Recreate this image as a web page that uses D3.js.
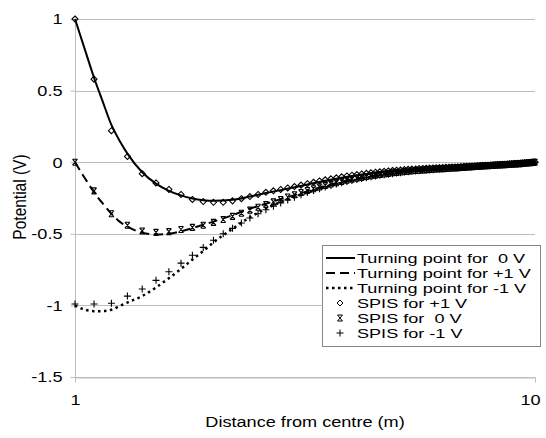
<!DOCTYPE html>
<html>
<head>
<meta charset="utf-8">
<script src="https://cdn.jsdelivr.net/npm/d3@7"></script>
<style>
  body { margin: 0; background: #fff; }
  text { font-family: "Liberation Sans", Arial, sans-serif; fill: #000; }
</style>
</head>
<body>
<div id="chart"></div>
<script>
// distance from centre (m) for the SPIS samples
const spisX = [
  1.0, 1.1, 1.2, 1.3, 1.4, 1.5, 1.6, 1.7, 1.8, 1.9,
  2.0, 2.1, 2.2, 2.3, 2.4, 2.5, 2.6, 2.7, 2.8, 2.9,
  3.0, 3.1, 3.2, 3.3, 3.4, 3.5, 3.6, 3.7, 3.8, 3.9,
  4.0, 4.1, 4.2, 4.3, 4.4, 4.5, 4.6, 4.7, 4.8, 4.9,
  5.0, 5.1, 5.2, 5.3, 5.4, 5.5, 5.6, 5.7, 5.8, 5.9,
  6.0, 6.1, 6.2, 6.3, 6.4, 6.5, 6.6, 6.7, 6.8, 6.9,
  7.0, 7.1, 7.2, 7.3, 7.4, 7.5, 7.6, 7.7, 7.8, 7.9,
  8.0, 8.1, 8.2, 8.3, 8.4, 8.5, 8.6, 8.7, 8.8, 8.9,
  9.0, 9.1, 9.2, 9.3, 9.4, 9.5, 9.6, 9.7, 9.8, 9.9,
  10.0
];

const spisPlus1 = [
  1.0, 0.58, 0.22, 0.04, -0.08, -0.145, -0.19, -0.225, -0.26, -0.275,
  -0.28, -0.28, -0.27, -0.255, -0.24, -0.225, -0.21, -0.2, -0.19, -0.18,
  -0.17, -0.16, -0.15, -0.14, -0.131, -0.123, -0.116, -0.109, -0.102, -0.096,
  -0.091, -0.086, -0.082, -0.078, -0.074, -0.07, -0.067, -0.064, -0.061, -0.058,
  -0.056, -0.054, -0.052, -0.05, -0.048, -0.047, -0.045, -0.044, -0.042, -0.041,
  -0.04, -0.039, -0.038, -0.037, -0.036, -0.035, -0.034, -0.033, -0.032, -0.031,
  -0.03, -0.029, -0.028, -0.027, -0.026, -0.025, -0.024, -0.023, -0.022, -0.021,
  -0.02, -0.019, -0.018, -0.017, -0.016, -0.015, -0.014, -0.013, -0.012, -0.011,
  -0.01, -0.009, -0.008, -0.007, -0.006, -0.005, -0.004, -0.003, -0.002, -0.001,
  0
];

const spis0 = [
  0, -0.2, -0.36, -0.44, -0.48, -0.49, -0.485, -0.47, -0.455, -0.44,
  -0.42, -0.4, -0.378, -0.356, -0.335, -0.315, -0.295, -0.277, -0.26, -0.243,
  -0.227, -0.212, -0.198, -0.185, -0.173, -0.162, -0.152, -0.143, -0.134, -0.126,
  -0.119, -0.112, -0.106, -0.1, -0.095, -0.09, -0.086, -0.082, -0.078, -0.074,
  -0.071, -0.068, -0.065, -0.062, -0.06, -0.058, -0.056, -0.054, -0.052, -0.051,
  -0.049, -0.048, -0.046, -0.045, -0.044, -0.042, -0.041, -0.04, -0.038, -0.037,
  -0.036, -0.034, -0.033, -0.032, -0.03, -0.029, -0.028, -0.026, -0.025, -0.024,
  -0.023, -0.022, -0.021, -0.02, -0.019, -0.018, -0.017, -0.016, -0.015, -0.014,
  -0.013, -0.012, -0.011, -0.01, -0.008, -0.007, -0.006, -0.004, -0.003, -0.001,
  0
];

const spisMinus1 = [
  -0.99, -0.99, -0.985, -0.935, -0.885, -0.825, -0.765, -0.705, -0.65, -0.595,
  -0.545, -0.5, -0.462, -0.425, -0.39, -0.36, -0.332, -0.307, -0.285, -0.264,
  -0.245, -0.228, -0.212, -0.198, -0.185, -0.173, -0.162, -0.152, -0.143, -0.135,
  -0.127, -0.12, -0.114, -0.108, -0.102, -0.097, -0.092, -0.088, -0.084, -0.08,
  -0.076, -0.073, -0.07, -0.067, -0.064, -0.062, -0.06, -0.058, -0.056, -0.054,
  -0.052, -0.05, -0.049, -0.047, -0.046, -0.044, -0.043, -0.041, -0.04, -0.038,
  -0.037, -0.036, -0.034, -0.033, -0.032, -0.03, -0.029, -0.028, -0.026, -0.025,
  -0.024, -0.023, -0.022, -0.021, -0.02, -0.019, -0.018, -0.017, -0.016, -0.015,
  -0.013, -0.012, -0.011, -0.01, -0.009, -0.007, -0.006, -0.004, -0.003, -0.001,
  0
];

// turning point model curves
const lineX = [1, 1.05, 1.1, 1.15, 1.2, 1.25, 1.3, 1.4, 1.5, 1.6, 1.7, 1.8, 1.9, 2.0,
  2.2, 2.4, 2.6, 2.8, 3.0, 3.5, 4, 4.5, 5, 6, 7, 8, 9, 10];
const turn0 = [1.0, 0.79, 0.59, 0.42, 0.26, 0.15, 0.06, -0.07, -0.15, -0.2, -0.232, -0.253, -0.265, -0.27,
  -0.263, -0.24, -0.215, -0.195, -0.175, -0.13, -0.097, -0.073, -0.058, -0.041, -0.03, -0.02, -0.01, 0];
const turnPlus1 = [0, -0.11, -0.21, -0.29, -0.36, -0.415, -0.45, -0.493, -0.505, -0.5, -0.483, -0.46, -0.437, -0.415,
  -0.37, -0.325, -0.29, -0.258, -0.23, -0.165, -0.12, -0.092, -0.072, -0.05, -0.035, -0.022, -0.011, 0];
const turnMinus1 = [-1.0, -1.03, -1.04, -1.04, -1.03, -1.005, -0.98, -0.935, -0.875, -0.81, -0.745, -0.68, -0.62, -0.56,
  -0.465, -0.385, -0.325, -0.278, -0.243, -0.174, -0.128, -0.097, -0.076, -0.052, -0.037, -0.024, -0.012, 0];

const yTicks = [1, 0.5, 0, -0.5, -1, -1.5];
const yTickLabels = ["1", "0.5", "0", "-0.5", "-1", "-1.5"];
const xTicks = [1, 10];
const xTickLabels = ["1", "10"];

const legendLabels = [
  "Turning point for  0 V",
  "Turning point for +1 V",
  "Turning point for -1 V",
  "SPIS for +1 V",
  "SPIS for  0 V",
  "SPIS for -1 V"
];

(function() {
  const width = 546, height = 438;
  const sx = 1.17;           // text in the original is stretched sideways
  const grid = "#bdbdbd";

  const svg = d3.select("#chart").append("svg")
    .attr("width", width)
    .attr("height", height);

  const x = d3.scaleLog().domain([1, 10]).range([75, 535]);
  const y = d3.scaleLinear().domain([-1.5, 1]).range([377, 19]);

  // horizontal gridlines
  svg.append("g").selectAll("line")
    .data(yTicks)
    .enter().append("line")
    .attr("x1", 75).attr("x2", 535)
    .attr("y1", d => Math.round(y(d)) + 0.5)
    .attr("y2", d => Math.round(y(d)) + 0.5)
    .attr("stroke", grid)
    .attr("stroke-width", 1);

  const yAxis = svg.append("g")
    .attr("transform", "translate(75.5,0)")
    .call(d3.axisLeft(y).tickValues(yTicks).tickSize(5).tickSizeOuter(0)
      .tickFormat((d, i) => yTickLabels[i]));
  yAxis.select(".domain").attr("stroke", grid).attr("d", `M0,${y(1)}V${y(-1.5) + 5}`);
  yAxis.selectAll(".tick line").attr("stroke", grid);
  yAxis.selectAll(".tick text")
    .attr("x", -13 / sx)
    .attr("transform", `scale(${sx},1)`)
    .style("font-size", "15.5px");

  const xAxis = svg.append("g")
    .attr("transform", "translate(0,377.5)")
    .call(d3.axisBottom(x).tickValues(xTicks).tickSize(5).tickSizeOuter(0)
      .tickFormat((d, i) => xTickLabels[i]));
  xAxis.select(".domain").attr("stroke", grid);
  xAxis.selectAll(".tick line").attr("stroke", grid);
  xAxis.selectAll(".tick text")
    .attr("y", 17)
    .attr("x", (d, i) => i === 1 ? -5 / sx : 0)
    .attr("transform", `scale(${sx},1)`)
    .style("font-size", "15.5px");

  // axis titles
  svg.append("text")
    .attr("transform", `translate(305,427) scale(${sx},1)`)
    .attr("text-anchor", "middle")
    .style("font-size", "15.5px")
    .text("Distance from centre (m)");

  svg.append("text")
    .attr("transform", `translate(26,197) rotate(-90) scale(1,${sx})`)
    .attr("text-anchor", "middle")
    .style("font-size", "15.5px")
    .text("Potential (V)");

  // model curves
  const lines = [
    { values: turn0, dash: null, width: 2 },
    { values: turnPlus1, dash: "9,5", width: 2 },
    { values: turnMinus1, dash: "2.5,3.5", width: 2.5 }
  ];

  const lineGen = d3.line()
    .x(d => x(d[0]))
    .y(d => y(d[1]))
    .curve(d3.curveMonotoneX);

  svg.append("g").selectAll("path")
    .data(lines)
    .enter().append("path")
    .attr("d", d => lineGen(lineX.map((v, i) => [v, d.values[i]])))
    .attr("fill", "none")
    .attr("stroke", "#000")
    .attr("stroke-width", d => d.width)
    .attr("stroke-dasharray", d => d.dash);

  // marker shapes
  const markerPaths = {
    diamond: "M0,-3L3,0L0,3L-3,0Z",
    star: "M-2.5,-3L2.5,3M2.5,-3L-2.5,3M-2.5,-3H2.5M-2.5,3H2.5",
    plus: "M-3.5,0H3.5M0,-3.5V3.5"
  };

  const markerSeries = [
    { values: spisPlus1, shape: "diamond" },
    { values: spis0, shape: "star" },
    { values: spisMinus1, shape: "plus" }
  ];

  markerSeries.forEach(s => {
    svg.append("g").selectAll("path")
      .data(spisX.map((v, i) => [v, s.values[i]]))
      .enter().append("path")
      .attr("transform", d => `translate(${x(d[0])},${y(d[1])})`)
      .attr("d", markerPaths[s.shape])
      .attr("fill", "none")
      .attr("stroke", "#000")
      .attr("stroke-width", 1.1);
  });

  // legend
  const legend = svg.append("g");
  legend.append("rect")
    .attr("x", 322.5).attr("y", 245.5)
    .attr("width", 218).attr("height", 101)
    .attr("fill", "#fff")
    .attr("stroke", "#888");

  const legendSx = 1.34;
  const rowY = i => 258 + i * 15;

  legendLabels.forEach((label, i) => {
    const cy = rowY(i);
    if (i < 3) {
      legend.append("line")
        .attr("x1", 326).attr("x2", 355)
        .attr("y1", cy).attr("y2", cy)
        .attr("stroke", "#000")
        .attr("stroke-width", lines[i].width)
        .attr("stroke-dasharray", lines[i].dash);
    } else {
      legend.append("path")
        .attr("transform", `translate(340,${cy})`)
        .attr("d", markerPaths[markerSeries[i - 3].shape])
        .attr("fill", "none")
        .attr("stroke", "#000")
        .attr("stroke-width", 1);
    }
    legend.append("text")
      .attr("transform", `translate(357,${cy + 5}) scale(${legendSx},1)`)
      .style("font-size", "13.5px")
      .style("white-space", "pre")
      .text(label);
  });
})();
</script>
</body>
</html>
